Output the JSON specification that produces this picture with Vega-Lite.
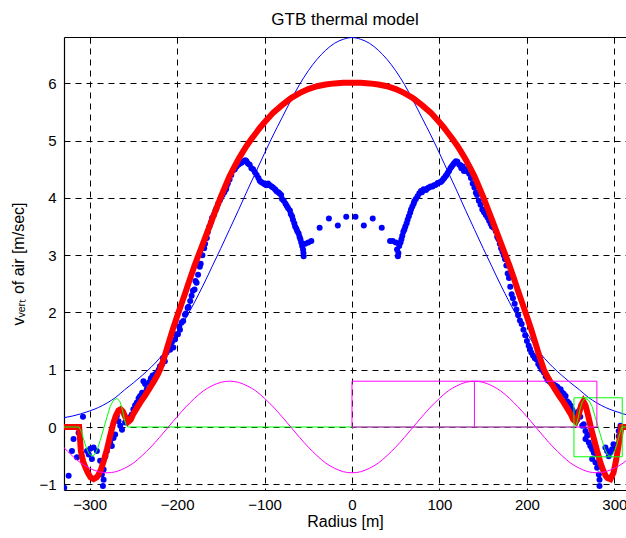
{
"$schema": "https://vega.github.io/schema/vega-lite/v6.json",
"width": 562, "height": 453,
"autosize": "none",
"padding": {"left": 64, "top": 37, "right": 0, "bottom": 48},
"background": "white",
"title": {"text": "GTB thermal model", "fontSize": 17, "font": "Liberation Sans", "fontWeight": "normal", "offset": 8, "color": "black"},
"config": {
  "view": {"stroke": null},
  "axis": {"labelFont": "Liberation Sans", "labelFontSize": 15, "labelColor": "black", "titleFont": "Liberation Sans", "titleFontSize": 16, "titleFontWeight": "normal", "titleColor": "black", "domainColor": "black", "domainWidth": 1.2, "gridColor": "black", "gridOpacity": 1, "gridDash": [6, 5], "gridWidth": 1, "labelFlush": false, "labelOverlap": false, "labelBound": false}
},
"datasets": {
  "blueline": [
    {"x":-330,"y":0.16},{"x":-320,"y":0.19},{"x":-310,"y":0.23},{"x":-300,"y":0.28},{"x":-290,"y":0.34},{"x":-280,"y":0.42},{"x":-270,"y":0.52},{"x":-260,"y":0.65},{"x":-250,"y":0.77},{"x":-240,"y":0.9},{"x":-230,"y":1.04},{"x":-220,"y":1.2},{"x":-210,"y":1.4},{"x":-200,"y":1.64},{"x":-190,"y":1.9},{"x":-180,"y":2.18},{"x":-170,"y":2.48},{"x":-160,"y":2.8},{"x":-150,"y":3.12},{"x":-140,"y":3.45},{"x":-130,"y":3.78},{"x":-120,"y":4.12},{"x":-110,"y":4.45},{"x":-100,"y":4.78},{"x":-90,"y":5.1},{"x":-80,"y":5.4},{"x":-70,"y":5.7},{"x":-60,"y":5.98},{"x":-50,"y":6.22},{"x":-40,"y":6.42},{"x":-30,"y":6.58},{"x":-20,"y":6.7},{"x":-10,"y":6.77},{"x":0,"y":6.8},
    {"x":10,"y":6.77},{"x":20,"y":6.7},{"x":30,"y":6.58},{"x":40,"y":6.42},{"x":50,"y":6.22},{"x":60,"y":5.98},{"x":70,"y":5.7},{"x":80,"y":5.4},{"x":90,"y":5.1},{"x":100,"y":4.78},{"x":110,"y":4.45},{"x":120,"y":4.12},{"x":130,"y":3.78},{"x":140,"y":3.45},{"x":150,"y":3.12},{"x":160,"y":2.8},{"x":170,"y":2.48},{"x":180,"y":2.18},{"x":190,"y":1.9},{"x":200,"y":1.64},{"x":210,"y":1.4},{"x":220,"y":1.2},{"x":230,"y":1.04},{"x":240,"y":0.9},{"x":250,"y":0.77},{"x":260,"y":0.65},{"x":270,"y":0.52},{"x":280,"y":0.42},{"x":290,"y":0.34},{"x":300,"y":0.28},{"x":310,"y":0.23},{"x":320,"y":0.19}
  ],
  "red": [
    {"x":-329.3,"y":0},{"x":-320,"y":0},{"x":-312,"y":0},{"x":-311,"y":-0.2},{"x":-310,"y":-0.42},{"x":-307.5,"y":-0.6},{"x":-305,"y":-0.7},{"x":-302,"y":-0.8},{"x":-299,"y":-0.88},{"x":-295.5,"y":-0.91},{"x":-292,"y":-0.88},{"x":-290,"y":-0.84},{"x":-287,"y":-0.74},{"x":-284,"y":-0.6},{"x":-280,"y":-0.38},{"x":-276.5,"y":-0.15},{"x":-273,"y":0.06},{"x":-270,"y":0.2},{"x":-267,"y":0.29},{"x":-264.5,"y":0.31},{"x":-262,"y":0.27},{"x":-259,"y":0.17},{"x":-256,"y":0.09},{"x":-253,"y":0.13},{"x":-250,"y":0.23},{"x":-246,"y":0.33},{"x":-242,"y":0.43},{"x":-237,"y":0.54},{"x":-232,"y":0.66},{"x":-228,"y":0.76},{"x":-225,"y":0.84},{"x":-222,"y":0.92},{"x":-219.5,"y":1.0},{"x":-215,"y":1.2},{"x":-210,"y":1.45},{"x":-205,"y":1.7},{"x":-200,"y":1.93},{"x":-195,"y":2.15},{"x":-190,"y":2.37},{"x":-185,"y":2.6},{"x":-180,"y":2.82},{"x":-175,"y":3.02},{"x":-170,"y":3.22},{"x":-165,"y":3.42},{"x":-160,"y":3.62},{"x":-155,"y":3.82},{"x":-150,"y":4.02},{"x":-145,"y":4.2},{"x":-140,"y":4.38},{"x":-135,"y":4.53},{"x":-130,"y":4.67},{"x":-125,"y":4.8},{"x":-120,"y":4.92},{"x":-115,"y":5.03},{"x":-110,"y":5.13},{"x":-105,"y":5.23},{"x":-100,"y":5.32},{"x":-90,"y":5.49},{"x":-80,"y":5.62},{"x":-70,"y":5.74},{"x":-60,"y":5.83},{"x":-50,"y":5.9},{"x":-40,"y":5.95},{"x":-30,"y":5.98},{"x":-20,"y":6.0},{"x":-10,"y":6.01},{"x":0,"y":6.01},
    {"x":10,"y":6.01},{"x":20,"y":6.0},{"x":30,"y":5.98},{"x":40,"y":5.95},{"x":50,"y":5.9},{"x":60,"y":5.83},{"x":70,"y":5.74},{"x":80,"y":5.62},{"x":90,"y":5.49},{"x":100,"y":5.32},{"x":105,"y":5.23},{"x":110,"y":5.13},{"x":115,"y":5.03},{"x":120,"y":4.92},{"x":125,"y":4.8},{"x":130,"y":4.67},{"x":135,"y":4.53},{"x":140,"y":4.38},{"x":145,"y":4.2},{"x":150,"y":4.02},{"x":155,"y":3.82},{"x":160,"y":3.62},{"x":165,"y":3.42},{"x":170,"y":3.22},{"x":175,"y":3.02},{"x":180,"y":2.82},{"x":185,"y":2.6},{"x":190,"y":2.37},{"x":195,"y":2.15},{"x":200,"y":1.93},{"x":205,"y":1.7},{"x":210,"y":1.45},{"x":215,"y":1.2},{"x":219.5,"y":1.0},{"x":222,"y":0.92},{"x":225,"y":0.84},{"x":228,"y":0.76},{"x":232,"y":0.66},{"x":237,"y":0.54},{"x":242,"y":0.43},{"x":246,"y":0.33},{"x":250,"y":0.23},{"x":253,"y":0.13},{"x":256,"y":0.09},{"x":259,"y":0.2},{"x":262,"y":0.38},{"x":264.5,"y":0.45},{"x":267,"y":0.38},{"x":270,"y":0.2},{"x":273,"y":0.0},{"x":276.5,"y":-0.2},{"x":280,"y":-0.4},{"x":284,"y":-0.62},{"x":287,"y":-0.75},{"x":290,"y":-0.85},{"x":292,"y":-0.89},{"x":295.5,"y":-0.91},{"x":299,"y":-0.8},{"x":302,"y":-0.58},{"x":304.5,"y":-0.35},{"x":306.5,"y":-0.15},{"x":308,"y":0},{"x":313.3,"y":0}
  ],
  "dots": [
    {"x":-329,"y":-1.06},{"x":-324,"y":-0.85},{"x":-320.2,"y":-0.42},{"x":-318.4,"y":-0.21},{"x":-314.5,"y":-0.53},{"x":-312.6,"y":-0.1},{"x":-307.6,"y":0.18},{"x":-303,"y":-0.42},{"x":-301,"y":-0.48},{"x":-299.3,"y":-0.38},{"x":-297.4,"y":-0.56},{"x":-295.5,"y":-0.36},{"x":-291.7,"y":-0.42},{"x":-288,"y":-0.59},{"x":-286,"y":-0.83},{"x":-284,"y":-0.74},{"x":-284,"y":-0.92},{"x":-284.8,"y":-1.03},{"x":-282,"y":-0.51},{"x":-280.3,"y":-0.42},{"x":-276.5,"y":-0.27},{"x":-274.6,"y":-0.33},{"x":-272.7,"y":-0.19},{"x":-270.8,"y":-0.13},{"x":-268.9,"y":0.19},{"x":-267,"y":0.1},{"x":-265,"y":0.02},{"x":-263,"y":-0.05},{"x":-259.4,"y":0.08},{"x":-255.6,"y":0.1},{"x":-253,"y":0.18},{"x":-251.8,"y":0.22},{"x":-250,"y":0.31},{"x":-248,"y":0.38},{"x":-246,"y":0.43},{"x":-244,"y":0.5},{"x":-242.3,"y":0.54},{"x":-240,"y":0.6},
    {"x":-238.5,"y":0.8},{"x":-236.6,"y":0.75},{"x":-234.7,"y":0.66},{"x":-232,"y":0.78},{"x":-230,"y":0.85},{"x":-228,"y":0.9},{"x":-227,"y":0.8},{"x":-225,"y":0.92},{"x":-223,"y":0.95},{"x":-221,"y":1.0},{"x":-219.5,"y":1.06},{"x":-217,"y":1.1},{"x":-216,"y":1.2},{"x":-214,"y":1.15},{"x":-212,"y":1.3},{"x":-210,"y":1.38},{"x":-208,"y":1.35},{"x":-206,"y":1.48},{"x":-204.3,"y":1.39},{"x":-202.4,"y":1.53},{"x":-201,"y":1.62},{"x":-199,"y":1.62},{"x":-197.5,"y":1.75},{"x":-196.7,"y":1.7},{"x":-195,"y":1.82},{"x":-193,"y":1.85},{"x":-191,"y":1.96},{"x":-190,"y":1.98},{"x":-188,"y":2.08},{"x":-187,"y":2.1},{"x":-185,"y":2.2},{"x":-183.4,"y":2.29},{"x":-182,"y":2.38},{"x":-180,"y":2.4},{"x":-179,"y":2.55},{"x":-177.7,"y":2.52},{"x":-176,"y":2.66},{"x":-174,"y":2.8},{"x":-173,"y":2.85},{"x":-171,"y":3.0},{"x":-169,"y":3.12},{"x":-168,"y":3.2},{"x":-166,"y":3.3},{"x":-165,"y":3.4},{"x":-163,"y":3.5},{"x":-161,"y":3.58},{"x":-160,"y":3.65},{"x":-158,"y":3.7},{"x":-156,"y":3.78},{"x":-155,"y":3.82},{"x":-153,"y":3.9},{"x":-151,"y":3.96},{"x":-150,"y":4.0},{"x":-148,"y":4.05},{"x":-146,"y":4.1},{"x":-144,"y":4.15},{"x":-143.5,"y":4.2},{"x":-142,"y":4.25},{"x":-140,"y":4.32},{"x":-138,"y":4.4},{"x":-136,"y":4.48},{"x":-134,"y":4.5},{"x":-132,"y":4.55},{"x":-130,"y":4.58},{"x":-128,"y":4.6},{"x":-126,"y":4.62},{"x":-124,"y":4.64},{"x":-122,"y":4.66},{"x":-120.6,"y":4.64},{"x":-119,"y":4.6},{"x":-117,"y":4.58},{"x":-115,"y":4.52},{"x":-113,"y":4.5},{"x":-111,"y":4.45},{"x":-109,"y":4.4},{"x":-107,"y":4.35},{"x":-105.5,"y":4.3},{"x":-104,"y":4.28},{"x":-102,"y":4.26},{"x":-100,"y":4.24},{"x":-98,"y":4.22},{"x":-96,"y":4.25},{"x":-94,"y":4.22},{"x":-92,"y":4.2},{"x":-90.3,"y":4.18},{"x":-88,"y":4.15},{"x":-86.5,"y":4.12},{"x":-84.5,"y":4.1},{"x":-83,"y":4.08},{"x":-81,"y":4.05},{"x":-80,"y":3.98},{"x":-78,"y":3.95},{"x":-76,"y":3.9},{"x":-74.5,"y":3.86},{"x":-73,"y":3.82},{"x":-71,"y":3.78},{"x":-70,"y":3.72},{"x":-68.5,"y":3.68},{"x":-67.5,"y":3.62},{"x":-66,"y":3.56},{"x":-65,"y":3.5},{"x":-63.6,"y":3.46},{"x":-62.5,"y":3.42},{"x":-61,"y":3.38},{"x":-60,"y":3.32},{"x":-59,"y":3.28},{"x":-58,"y":3.22},{"x":-57,"y":3.16},{"x":-56,"y":3.1},{"x":-55.5,"y":3.04},{"x":-55.3,"y":2.98},{"x":-53.5,"y":3.2},{"x":-50,"y":3.22},{"x":-46.5,"y":3.25},
    {"x":-37,"y":3.48},{"x":-26.4,"y":3.64},{"x":-16.2,"y":3.52},{"x":-6.6,"y":3.67},{"x":4,"y":3.67},{"x":13.5,"y":3.52},{"x":23.7,"y":3.64},{"x":34,"y":3.48},{"x":43.5,"y":3.25},
    {"x":46.5,"y":3.25},{"x":50,"y":3.22},{"x":51.5,"y":3.1},{"x":52.5,"y":2.98},{"x":53,"y":3.04},{"x":54,"y":3.16},{"x":55.5,"y":3.22},{"x":56.5,"y":3.28},{"x":57.5,"y":3.34},{"x":58.7,"y":3.41},{"x":59.9,"y":3.45},{"x":61,"y":3.5},{"x":62.5,"y":3.56},{"x":63.6,"y":3.62},{"x":65,"y":3.68},{"x":66.5,"y":3.74},{"x":67.5,"y":3.8},{"x":69,"y":3.85},{"x":70.5,"y":3.9},{"x":71.3,"y":3.94},{"x":73,"y":3.98},{"x":75,"y":4.03},{"x":77,"y":4.08},{"x":78.9,"y":4.12},{"x":80,"y":4.1},{"x":82,"y":4.15},{"x":84.6,"y":4.14},{"x":86.5,"y":4.17},{"x":88,"y":4.18},{"x":90,"y":4.2},{"x":92.1,"y":4.2},{"x":94,"y":4.22},{"x":96,"y":4.23},{"x":98,"y":4.26},{"x":99.8,"y":4.27},{"x":101.5,"y":4.28},{"x":103,"y":4.3},{"x":104.5,"y":4.33},{"x":105.5,"y":4.35},{"x":107,"y":4.38},{"x":108,"y":4.4},{"x":109.5,"y":4.44},{"x":111,"y":4.47},{"x":112.5,"y":4.52},{"x":114,"y":4.55},{"x":115.5,"y":4.58},{"x":116.9,"y":4.61},{"x":118.8,"y":4.64},{"x":120.5,"y":4.63},{"x":122.6,"y":4.58},{"x":124,"y":4.57},{"x":125,"y":4.52},{"x":126.5,"y":4.55},{"x":128,"y":4.47},{"x":130,"y":4.5},{"x":132,"y":4.46},{"x":134,"y":4.42},{"x":136,"y":4.35},{"x":138,"y":4.25},{"x":140,"y":4.18},{"x":141.6,"y":4.09},{"x":143,"y":4.05},{"x":145,"y":3.95},{"x":147,"y":3.88},{"x":149,"y":3.8},{"x":151,"y":3.75},{"x":153,"y":3.7},{"x":155,"y":3.66},{"x":156.8,"y":3.6},{"x":158.5,"y":3.55},{"x":160,"y":3.5},{"x":162,"y":3.48},{"x":164.4,"y":3.42},{"x":166,"y":3.32},{"x":167.5,"y":3.28},{"x":169,"y":3.2},{"x":170.5,"y":3.12},{"x":172,"y":3.06},{"x":173.5,"y":3.0},{"x":175,"y":2.93},{"x":176.5,"y":2.82},{"x":178,"y":2.68},{"x":179.5,"y":2.6},{"x":181,"y":2.45},{"x":182.5,"y":2.32},{"x":184,"y":2.25},{"x":186,"y":2.15},{"x":188,"y":2.05},{"x":190,"y":1.95},{"x":192,"y":1.86},{"x":194,"y":1.8},{"x":196,"y":1.7},{"x":198,"y":1.6},{"x":200,"y":1.5},{"x":202,"y":1.42},{"x":203.5,"y":1.36},{"x":205,"y":1.3},{"x":207,"y":1.25},{"x":209,"y":1.2},{"x":211,"y":1.18},{"x":213,"y":1.1},{"x":215,"y":1.05},{"x":217,"y":1.0},{"x":219.5,"y":0.95},{"x":221.5,"y":0.88},{"x":223.5,"y":0.82},{"x":225.5,"y":0.8},{"x":228,"y":0.76},{"x":230.5,"y":0.74},{"x":233,"y":0.72},{"x":235,"y":0.7},{"x":236.6,"y":0.66},{"x":238.5,"y":0.66},{"x":240.4,"y":0.6},{"x":242,"y":0.58},{"x":244.2,"y":0.54},{"x":246,"y":0.45},{"x":248,"y":0.42},{"x":250,"y":0.37},{"x":252,"y":0.3},{"x":253.8,"y":0.25},{"x":255.6,"y":0.22},{"x":257.5,"y":0.13},{"x":259.4,"y":0.28},{"x":261,"y":0.18},{"x":263.2,"y":0.02},{"x":265,"y":0.05},{"x":267,"y":-0.07},{"x":267,"y":-0.21},{"x":269,"y":-0.15},{"x":270.8,"y":-0.13},{"x":270.8,"y":-0.27},{"x":272.5,"y":-0.33},{"x":274.6,"y":-0.39},{"x":274.6,"y":-0.56},{"x":276.5,"y":-0.45},{"x":278.4,"y":-0.62},{"x":280.3,"y":-0.48},{"x":280.3,"y":-0.71},{"x":282.2,"y":-0.83},{"x":283,"y":-0.92},{"x":283,"y":-1.03},{"x":289.8,"y":-0.36},{"x":291.7,"y":-0.42},{"x":293.6,"y":-0.51},{"x":295.5,"y":-0.45},{"x":297.4,"y":-0.39},{"x":299,"y":-0.3},{"x":305,"y":-0.07},{"x":305,"y":-0.16},{"x":307,"y":0.02}
  ],
  "green": [
    {"x":-329.3,"y":0},{"x":-312,"y":0},{"x":-309,"y":-0.1},{"x":-307,"y":-0.21},{"x":-304,"y":-0.35},{"x":-301,"y":-0.46},{"x":-297.5,"y":-0.51},{"x":-294,"y":-0.48},{"x":-291,"y":-0.38},{"x":-288,"y":-0.24},{"x":-284,"y":-0.03},{"x":-280,"y":0.18},{"x":-276.5,"y":0.36},{"x":-273,"y":0.46},{"x":-269,"y":0.5},{"x":-265.5,"y":0.45},{"x":-262.5,"y":0.3},{"x":-260,"y":0.12},{"x":-258,"y":0.02},{"x":-256,"y":0},
    {"x":254,"y":0},{"x":256,"y":0.02},{"x":258,"y":0.12},{"x":260.5,"y":0.3},{"x":263.5,"y":0.45},{"x":267,"y":0.5},{"x":271,"y":0.46},{"x":274.5,"y":0.36},{"x":278,"y":0.18},{"x":282,"y":-0.03},{"x":286,"y":-0.24},{"x":289,"y":-0.38},{"x":292,"y":-0.48},{"x":295.5,"y":-0.51},{"x":299,"y":-0.46},{"x":302,"y":-0.35},{"x":304.5,"y":-0.21},{"x":306.5,"y":-0.1},{"x":308.5,"y":0},{"x":313.3,"y":0}
  ],
  "grect": [{"x":253.8,"x2":309,"y":-0.52,"y2":0.51}],
  "magenta": [
    {"x":-330,"y":-0.35},{"x":-320,"y":-0.5},{"x":-310,"y":-0.63},{"x":-300,"y":-0.72},{"x":-290,"y":-0.78},{"x":-280,"y":-0.8},{"x":-270,"y":-0.78},{"x":-260,"y":-0.72},{"x":-250,"y":-0.63},{"x":-240,"y":-0.5},{"x":-230,"y":-0.35},{"x":-220,"y":-0.18},{"x":-210,"y":0},{"x":-200,"y":0.18},{"x":-190,"y":0.35},{"x":-180,"y":0.5},{"x":-170,"y":0.63},{"x":-160,"y":0.72},{"x":-150,"y":0.78},{"x":-140,"y":0.8},{"x":-130,"y":0.78},{"x":-120,"y":0.72},{"x":-110,"y":0.63},{"x":-100,"y":0.5},{"x":-90,"y":0.35},{"x":-80,"y":0.18},{"x":-70,"y":0},{"x":-60,"y":-0.18},{"x":-50,"y":-0.35},{"x":-40,"y":-0.5},{"x":-30,"y":-0.63},{"x":-20,"y":-0.72},{"x":-10,"y":-0.78},{"x":0,"y":-0.8},
    {"x":10,"y":-0.78},{"x":20,"y":-0.72},{"x":30,"y":-0.63},{"x":40,"y":-0.5},{"x":50,"y":-0.35},{"x":60,"y":-0.18},{"x":70,"y":0},{"x":80,"y":0.18},{"x":90,"y":0.35},{"x":100,"y":0.5},{"x":110,"y":0.63},{"x":120,"y":0.72},{"x":130,"y":0.78},{"x":140,"y":0.8},{"x":150,"y":0.78},{"x":160,"y":0.72},{"x":170,"y":0.63},{"x":180,"y":0.5},{"x":190,"y":0.35},{"x":200,"y":0.18},{"x":210,"y":0},{"x":220,"y":-0.18},{"x":230,"y":-0.35},{"x":240,"y":-0.5},{"x":250,"y":-0.63},{"x":260,"y":-0.72},{"x":270,"y":-0.78},{"x":280,"y":-0.8},{"x":290,"y":-0.78},{"x":300,"y":-0.72},{"x":310,"y":-0.63},{"x":320,"y":-0.5}
  ],
  "mrect": [{"x":0,"x2":280,"y":0,"y2":0.8}],
  "mrule": [{"x":140,"y":0,"y2":0.8}]
},
"resolve": {"axis": {"x": "independent"}},
"layer": [
  {
    "data": {"name": "blueline"},
    "mark": {"type": "line", "color": "#0000ff", "strokeWidth": 1, "interpolate": "monotone", "clip": true},
    "encoding": {
      "x": {"field": "x", "type": "quantitative", "scale": {"domain": [-329.3, 313.3], "nice": false, "zero": false},
            "axis": {"orient": "bottom", "values": [-300, -200, -100, 0, 100, 200, 300], "format": "d", "ticks": false, "labelPadding": 7, "grid": true, "title": "Radius [m]", "titlePadding": 1}},
      "y": {"field": "y", "type": "quantitative", "scale": {"domain": [-1.1, 6.81], "nice": false, "zero": false},
            "axis": {"values": [-1, 0, 1, 2, 3, 4, 5, 6], "format": "d", "ticks": false, "labelPadding": 8, "grid": true, "title": "vᵥₑᵣₜ of air [m/sec]", "titlePadding": 12}}
    }
  },
  {
    "data": {"name": "dots"},
    "mark": {"type": "point", "filled": true, "color": "#0000ff", "opacity": 1, "size": 36, "clip": true},
    "encoding": {
      "x": {"field": "x", "type": "quantitative", "axis": null},
      "y": {"field": "y", "type": "quantitative"}
    }
  },
  {
    "data": {"name": "red"},
    "mark": {"type": "line", "color": "#ff0000", "strokeWidth": 6, "clip": true},
    "encoding": {
      "x": {"field": "x", "type": "quantitative",
            "axis": {"orient": "top", "values": [-300, -200, -100, 0, 100, 200, 300], "labels": false, "ticks": true, "tickSize": -6, "tickColor": "black", "grid": false, "domain": true, "title": null}},
      "y": {"field": "y", "type": "quantitative"}
    }
  },
  {
    "data": {"name": "green"},
    "mark": {"type": "line", "color": "#00ff00", "strokeWidth": 1, "clip": true},
    "encoding": {
      "x": {"field": "x", "type": "quantitative", "axis": null},
      "y": {"field": "y", "type": "quantitative"}
    }
  },
  {
    "data": {"name": "grect"},
    "mark": {"type": "rect", "filled": false, "color": "#00ff00", "strokeWidth": 1, "clip": true},
    "encoding": {
      "x": {"field": "x", "type": "quantitative", "axis": null},
      "x2": {"field": "x2"},
      "y": {"field": "y", "type": "quantitative"},
      "y2": {"field": "y2"}
    }
  },
  {
    "data": {"name": "magenta"},
    "mark": {"type": "line", "color": "#ff00ff", "strokeWidth": 1, "interpolate": "monotone", "clip": true},
    "encoding": {
      "x": {"field": "x", "type": "quantitative", "axis": null},
      "y": {"field": "y", "type": "quantitative"}
    }
  },
  {
    "data": {"name": "mrect"},
    "mark": {"type": "rect", "filled": false, "color": "#ff00ff", "strokeWidth": 1, "clip": true},
    "encoding": {
      "x": {"field": "x", "type": "quantitative", "axis": null},
      "x2": {"field": "x2"},
      "y": {"field": "y", "type": "quantitative"},
      "y2": {"field": "y2"}
    }
  },
  {
    "data": {"name": "mrule"},
    "mark": {"type": "rule", "color": "#ff00ff", "strokeWidth": 1},
    "encoding": {
      "x": {"field": "x", "type": "quantitative", "axis": null},
      "y": {"field": "y", "type": "quantitative"},
      "y2": {"field": "y2"}
    }
  }
]
}
